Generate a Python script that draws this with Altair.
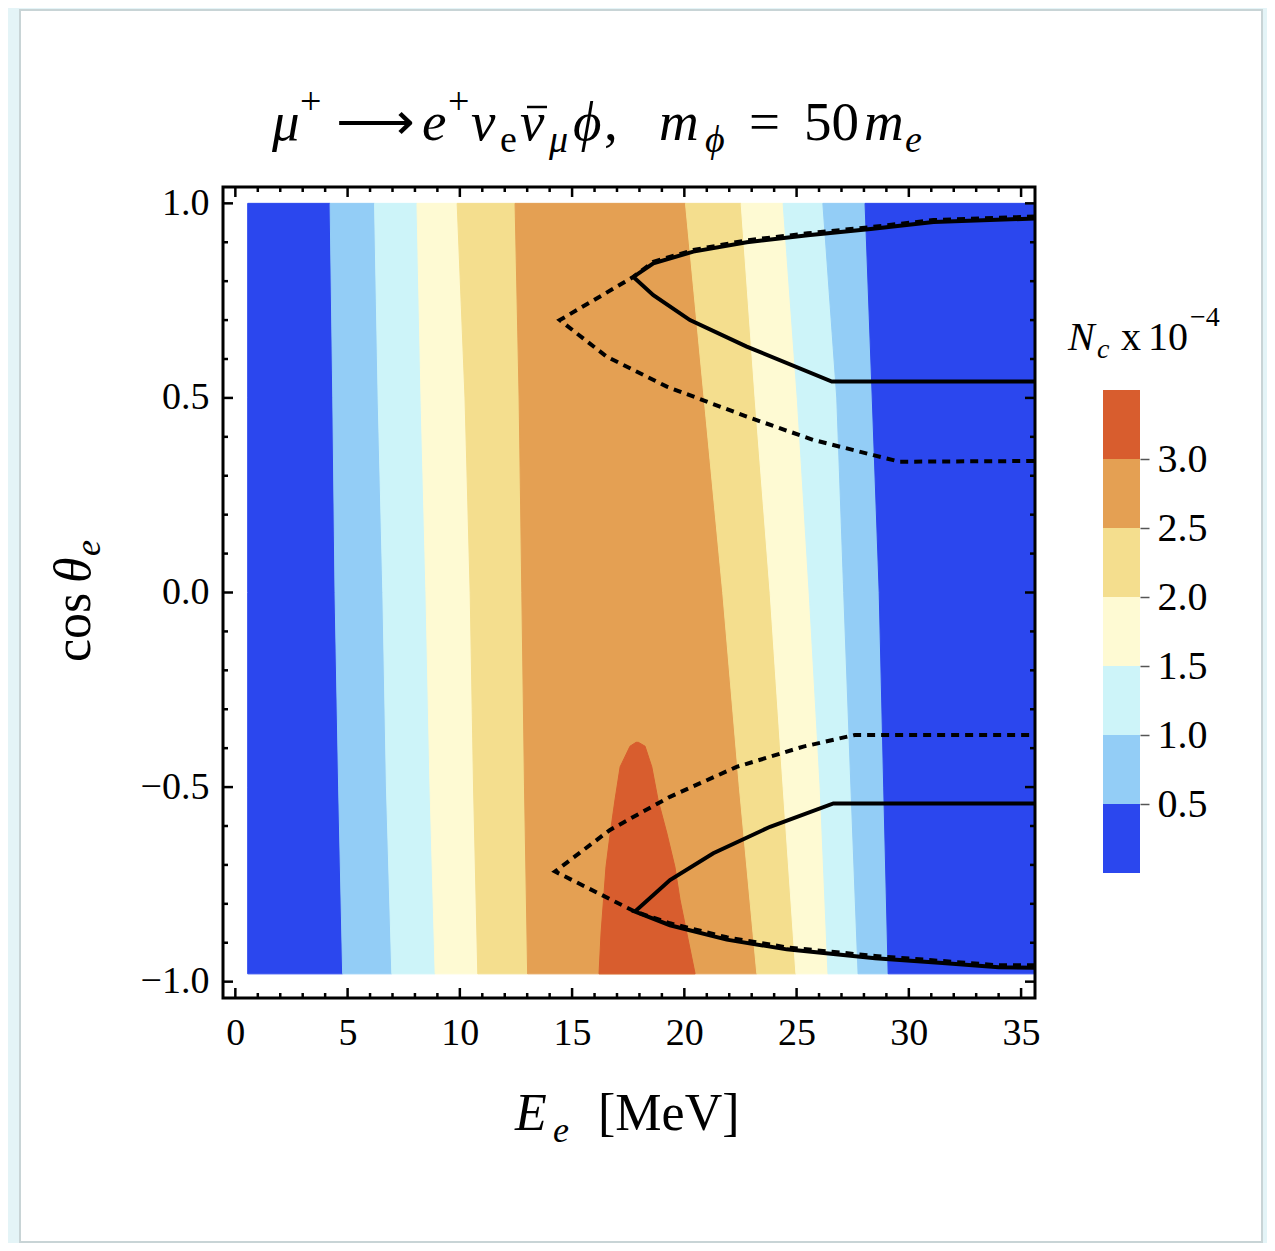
import altair as alt
import pandas as pd

# ---------------- data ----------------
X_DOMAIN = [-0.55, 35.62]
Y_DOMAIN = [-1.042, 1.042]

COS_LEVELS = [1.0, 0.5, 0.0, -0.5, -0.98]          # rows where band edges were read
E_LEFT = [0.55, 0.55, 0.55, 0.55, 0.55]
B_DARK_LIGHT_L = [4.22, 4.34, 4.44, 4.60, 4.78]
B_LIGHT_CYAN_L = [6.20, 6.36, 6.57, 6.73, 6.97]
B_CYAN_PALE_L = [8.09, 8.27, 8.49, 8.67, 8.90]
B_PALE_YEL_L = [9.88, 10.23, 10.46, 10.61, 10.80]
B_YEL_ORA_L = [12.46, 12.64, 12.76, 12.88, 13.02]
B_ORA_YEL_R = [20.05, 20.88, 21.71, 22.45, 23.23]
B_YEL_PALE_R = [22.53, 23.15, 23.82, 24.40, 24.97]
B_PALE_CYAN_R = [24.40, 25.03, 25.56, 26.05, 26.40]
B_CYAN_LIGHT_R = [26.17, 26.79, 27.10, 27.42, 27.74]
B_LIGHT_DARK_R = [28.05, 28.37, 28.68, 28.88, 29.08]
E_RIGHT = [35.62, 35.62, 35.62, 35.62, 35.62]

C_DARK = "#2B47EE"
C_LIGHT = "#93CDF6"
C_CYAN = "#CDF4F9"
C_PALE = "#FEFAD3"
C_YEL = "#F4DE8E"
C_ORA = "#E4A053"
C_RED = "#D85D2E"

BANDS = [
    ("b01", E_LEFT, B_DARK_LIGHT_L, C_DARK),
    ("b02", B_DARK_LIGHT_L, B_LIGHT_CYAN_L, C_LIGHT),
    ("b03", B_LIGHT_CYAN_L, B_CYAN_PALE_L, C_CYAN),
    ("b04", B_CYAN_PALE_L, B_PALE_YEL_L, C_PALE),
    ("b05", B_PALE_YEL_L, B_YEL_ORA_L, C_YEL),
    ("b06", B_YEL_ORA_L, B_ORA_YEL_R, C_ORA),
    ("b07", B_ORA_YEL_R, B_YEL_PALE_R, C_YEL),
    ("b08", B_YEL_PALE_R, B_PALE_CYAN_R, C_PALE),
    ("b09", B_PALE_CYAN_R, B_CYAN_LIGHT_R, C_CYAN),
    ("b10", B_CYAN_LIGHT_R, B_LIGHT_DARK_R, C_LIGHT),
    ("b11", B_LIGHT_DARK_R, E_RIGHT, C_DARK),
]

# red (> 3.0) island
RED_COS = [-0.385, -0.395, -0.448, -0.533, -0.618, -0.705, -0.790, -0.875, -0.98]
RED_LO = [17.85, 17.58, 17.14, 16.91, 16.70, 16.51, 16.40, 16.29, 16.20]
RED_HI = [17.95, 18.25, 18.55, 18.83, 19.22, 19.58, 19.81, 20.11, 20.48]

# black contour lines
UP_SOLID_E = [35.62, 31.1, 28.3, 25.5, 22.78, 20.40, 18.62, 17.73, 18.62, 20.25, 22.78, 26.57, 35.62]
UP_SOLID_C = [0.961, 0.952, 0.934, 0.918, 0.900, 0.876, 0.846, 0.811, 0.764, 0.700, 0.632, 0.542, 0.542]
UP_DASH_E = [35.62, 31.1, 28.3, 25.5, 22.78, 20.40, 18.62, 17.73, 14.45, 16.54, 19.22, 22.78, 25.75, 28.42, 29.6, 35.62]
UP_DASH_C = [0.966, 0.957, 0.939, 0.923, 0.905, 0.880, 0.850, 0.811, 0.700, 0.606, 0.529, 0.452, 0.392, 0.353, 0.336, 0.338]
LO_SOLID_E = [35.62, 34.0, 31.5, 28.5, 24.56, 21.89, 19.36, 17.80, 19.36, 21.29, 23.82, 26.64, 35.62]
LO_SOLID_C = [-0.964, -0.963, -0.952, -0.940, -0.917, -0.892, -0.855, -0.820, -0.739, -0.670, -0.602, -0.542, -0.542]
LO_DASH_E = [35.62, 34.0, 31.5, 28.5, 24.56, 21.89, 19.36, 17.80, 14.24, 16.69, 19.36, 22.33, 25.30, 27.6, 35.62]
LO_DASH_C = [-0.958, -0.958, -0.947, -0.934, -0.912, -0.886, -0.850, -0.820, -0.717, -0.610, -0.525, -0.448, -0.396, -0.366, -0.366]

# tick values
X_MAJOR = [0, 5, 10, 15, 20, 25, 30, 35]
X_MINOR = [v for v in range(0, 36) if v % 5 != 0]
Y_MAJOR = [-1.0, -0.5, 0.0, 0.5, 1.0]
Y_MINOR = [round(-1.0 + 0.1 * i, 1) for i in range(21) if i % 5 != 0]

# colour bar
CB_LO = [0.0, 0.5, 1.0, 1.5, 2.0, 2.5, 3.0]
CB_HI = [0.5, 1.0, 1.5, 2.0, 2.5, 3.0, 3.5]
CB_COL = [C_DARK, C_LIGHT, C_CYAN, C_PALE, C_YEL, C_ORA, C_RED]
CB_TICKS = [0.5, 1.0, 1.5, 2.0, 2.5, 3.0]

# ---------------- layout ----------------
W, H = 812, 811
OX, OY = 223, 187          # page position of the plot area
FONT = "Liberation Serif"

def px(x):
    return x - OX

def py(y):
    return y - OY

xs = alt.Scale(domain=X_DOMAIN, nice=False, zero=False)
ys = alt.Scale(domain=Y_DOMAIN, nice=False, zero=False)
xaxis = alt.Axis(values=X_MAJOR, format="d", title=None, grid=False, domain=False,
                 ticks=False, labelFont=FONT, labelFontSize=38, labelColor="black",
                 labelPadding=16, orient="bottom", zindex=2)
yaxis = alt.Axis(values=Y_MAJOR, format=".1f", title=None, grid=False, domain=False,
                 ticks=False, labelFont=FONT, labelFontSize=38, labelColor="black",
                 labelPadding=14, orient="left", zindex=2)

dummy = pd.DataFrame({"a": [0]})

# bands
rows = []
for name, lo, hi, col in BANDS:
    for c, l, h in zip(COS_LEVELS, lo, hi):
        rows.append({"band": name, "cos": c, "lo": l, "hi": h, "fill": col})
band_df = pd.DataFrame(rows)
red_df = pd.DataFrame({"band": "red", "cos": RED_COS, "lo": RED_LO, "hi": RED_HI, "fill": C_RED})

panel = alt.Chart(dummy).mark_rect(fill="white", stroke="#c8d4d6", strokeWidth=2).encode(
    x=alt.value(px(20)), x2=alt.value(px(1262)), y=alt.value(py(10)), y2=alt.value(py(1242)))

frame = alt.Chart(dummy).mark_rect(fillOpacity=0, stroke="black", strokeWidth=3).encode(
    x=alt.value(0), x2=alt.value(W), y=alt.value(0), y2=alt.value(H))

# bar over the anti-neutrino symbol in the title
nubar = alt.Chart(dummy).mark_rule(color="black", strokeWidth=2.5).encode(
    x=alt.value(px(527)), x2=alt.value(px(547)), y=alt.value(py(107)))

def band_layer(df):
    return alt.Chart(df).mark_area(orient="horizontal", strokeWidth=1).encode(
        y=alt.Y("cos:Q", scale=ys, axis=yaxis),
        x=alt.X("lo:Q", scale=xs, axis=xaxis),
        x2="hi:Q",
        fill=alt.Fill("fill:N", scale=None),
        stroke=alt.Stroke("fill:N", scale=None),
        detail="band:N",
    )

bands = band_layer(band_df)
red = band_layer(red_df)

def line_df(name, es, cs):
    return pd.DataFrame({"seg": name, "i": list(range(len(es))), "E": es, "c": cs})

dash_df = pd.concat([line_df("ud", UP_DASH_E, UP_DASH_C), line_df("ld", LO_DASH_E, LO_DASH_C)])
solid_df = pd.concat([line_df("us", UP_SOLID_E, UP_SOLID_C), line_df("ls", LO_SOLID_E, LO_SOLID_C)])

def lines(df, dash):
    kw = {"strokeDash": [8, 6]} if dash else {}
    return alt.Chart(df).mark_line(color="black", strokeWidth=4, **kw).encode(
        x=alt.X("E:Q", scale=xs, axis=xaxis),
        y=alt.Y("c:Q", scale=ys, axis=yaxis),
        detail="seg:N",
        order="i:Q",
    )

def xticks(vals, length, top):
    d = pd.DataFrame({"v": vals})
    if top:
        yv, y2v = 0, length
    else:
        yv, y2v = H, H - length
    return alt.Chart(d).mark_rule(color="black", strokeWidth=2.5).encode(
        x=alt.X("v:Q", scale=xs, axis=xaxis), y=alt.value(yv), y2=alt.value(y2v))

def yticks(vals, length, right):
    d = pd.DataFrame({"v": vals})
    if right:
        xv, x2v = W, W - length
    else:
        xv, x2v = 0, length
    return alt.Chart(d).mark_rule(color="black", strokeWidth=2.5).encode(
        y=alt.Y("v:Q", scale=ys, axis=yaxis), x=alt.value(xv), x2=alt.value(x2v))

tick_layers = [
    xticks(X_MAJOR, 10, False), xticks(X_MINOR, 5, False),
    xticks(X_MAJOR, 10, True), xticks(X_MINOR, 5, True),
    yticks(Y_MAJOR, 10, False), yticks(Y_MINOR, 5, False),
    yticks(Y_MAJOR, 10, True), yticks(Y_MINOR, 5, True),
]

# text pieces: (text, page x, page baseline y, size, italic, angle)
T, TS = 55, 38
BIG, SUB = 52, 36
TEXTS = [
    ("μ", 272, 140, T, True, 0), ("+", 300, 114, TS, False, 0),
    ("⟶", 336, 140, T, False, 0), ("e", 422, 140, T, True, 0),
    ("+", 448, 114, TS, False, 0), ("ν", 471, 140, T, True, 0),
    ("e", 500, 152, TS, False, 0), ("ν", 520, 140, T, True, 0),
    ("μ", 549, 152, TS, True, 0), ("ϕ", 573, 140, T, True, 0),
    (",", 604, 140, T, False, 0), ("m", 659, 140, T, True, 0),
    ("ϕ", 705, 152, TS, True, 0), ("=", 749, 140, T, False, 0),
    ("50", 804, 140, T, False, 0), ("m", 864, 140, T, True, 0),
    ("e", 905, 152, TS, True, 0),
    # x title
    ("E", 515, 1130, BIG, True, 0), ("e", 553, 1142, SUB, True, 0),
    ("[MeV]", 598, 1130, BIG, False, 0),
    # y title (rotated)
    ("cos", 90, 662, BIG, False, 270), ("θ", 90, 583, BIG, True, 270),
    ("e", 100, 556, SUB, True, 270),
    # colour bar title
    ("N", 1068, 350, 40, True, 0), ("c", 1097, 358, 28, True, 0),
    ("x", 1121, 350, 40, False, 0), ("10", 1148, 350, 40, False, 0),
    ("−4", 1190, 326, 28, False, 0),
]

text_layers = []
for t, x, y, s, it, ang in TEXTS:
    kw = {"fontStyle": "italic"} if it else {}
    if ang:
        kw["angle"] = ang
    text_layers.append(
        alt.Chart(dummy).mark_text(text=t, font=FONT, fontSize=s, align="left",
                                   baseline="alphabetic", color="black", **kw).encode(
            x=alt.value(px(x)), y=alt.value(py(y))))

main = alt.layer(panel, bands, red, lines(dash_df, True), lines(solid_df, False),
                 *tick_layers, frame, nubar, *text_layers)

cb_df = pd.DataFrame({"lo": CB_LO, "hi": CB_HI, "fill": CB_COL})
cb = alt.Chart(cb_df).mark_rect().encode(
    y=alt.Y("lo:Q", scale=alt.Scale(domain=[0, 3.5], range=[py(873), py(390)], nice=False, zero=False),
            axis=alt.Axis(values=CB_TICKS, format=".1f", orient="right", offset=px(1140) - W,
                          title=None, grid=False, domain=False, tickSize=9, tickWidth=1.5,
                          tickColor="#555555", labelFont=FONT, labelFontSize=40,
                          labelColor="black", labelPadding=8, zindex=2)),
    y2="hi:Q",
    x=alt.value(px(1103)), x2=alt.value(px(1140)),
    fill=alt.Fill("fill:N", scale=None),
)

chart = alt.layer(main, cb).resolve_scale(y="independent").properties(
    width=W, height=H,
    autosize=alt.AutoSizeParams(type="none"),
    padding={"left": 215, "top": 179, "right": 232, "bottom": 245},
).configure(background="#E4F4F7").configure_view(stroke=None)

chart.save("out.html", embed_options={"renderer": "svg", "actions": False})
